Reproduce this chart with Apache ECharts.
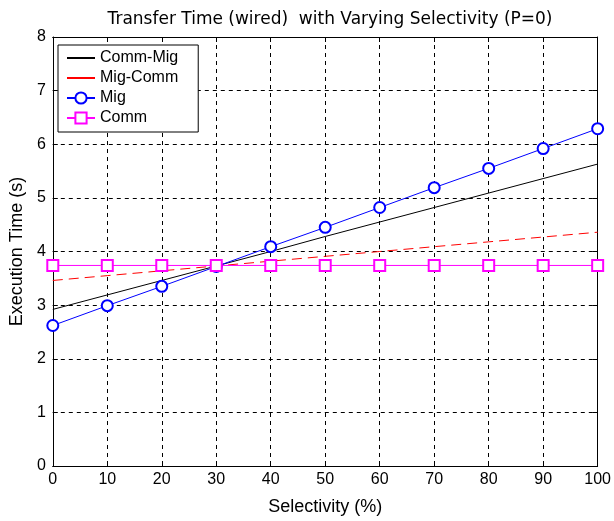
<!DOCTYPE html>
<html>
<head>
<meta charset="utf-8">
<script src="https://cdn.jsdelivr.net/npm/echarts@6/dist/echarts.min.js"></script>
<style>html,body{margin:0;padding:0;background:#fff}#c{width:614px;height:521px}</style>
</head>
<body>
<div id="c"></div>
<script>
const selectivity = [0, 10, 20, 30, 40, 50, 60, 70, 80, 90, 100];
const commMig = [2.92, 3.19, 3.46, 3.73, 4.00, 4.28, 4.55, 4.82, 5.09, 5.36, 5.63];
const migComm = [3.46, 3.55, 3.64, 3.73, 3.82, 3.91, 4.00, 4.09, 4.18, 4.27, 4.36];
const mig = [2.62, 2.99, 3.35, 3.72, 4.09, 4.45, 4.82, 5.19, 5.55, 5.92, 6.29];
const comm = [3.74, 3.74, 3.74, 3.74, 3.74, 3.74, 3.74, 3.74, 3.74, 3.74, 3.74];

const FONT = 'Liberation Sans, Arial, sans-serif';
const TFONT = 'DejaVu Sans, sans-serif';
const pairs = arr => selectivity.map((x, i) => [x, arr[i]]);
const dash = { color: '#000', type: [4, 4], width: 1 };

const chart = echarts.init(document.getElementById('c'), null, { renderer: 'canvas' });
chart.setOption({
  animation: false,
  backgroundColor: '#fff',
  title: {
    text: 'Transfer Time (wired)  with Varying Selectivity (P=0)',
    left: 325, top: 6, textAlign: 'center',
    textStyle: { fontFamily: TFONT, fontSize: 17, fontWeight: 'normal', color: '#000' }
  },
  grid: { left: 51, right: 13, top: 37, bottom: 50, containLabel: false },
  legend: {
    orient: 'vertical', left: 58, top: 45,
    backgroundColor: '#fff', borderColor: '#000', borderWidth: 1,
    padding: [5, 20, 6, 8], itemGap: 4, itemWidth: 28, itemHeight: 14,
    textStyle: { fontFamily: FONT, fontSize: 16, color: '#000' },
    data: [
      { name: 'Comm-Mig', itemStyle: { opacity: 0 } },
      { name: 'Mig-Comm', itemStyle: { opacity: 0 }, lineStyle: { type: 'solid' } },
      { name: 'Mig', itemStyle: { borderWidth: 1 } },
      { name: 'Comm', itemStyle: { borderWidth: 1 } }
    ]
  },
  xAxis: [{
    type: 'value', min: 0, max: 100, interval: 10,
    name: 'Selectivity (%)', nameLocation: 'middle', nameGap: 32,
    nameTextStyle: { fontFamily: FONT, fontSize: 18, color: '#000' },
    axisLine: { show: true, lineStyle: { color: '#000', width: 1 } },
    axisTick: { show: true, inside: true, length: 5, lineStyle: { color: '#000' } },
    axisLabel: { fontFamily: FONT, fontSize: 16, color: '#000', margin: 6 },
    splitLine: { show: true, lineStyle: dash }
  }, {
    type: 'value', min: 0, max: 100, interval: 10, position: 'top',
    axisLine: { show: true, onZero: false, lineStyle: { color: '#000', width: 1 } },
    axisTick: { show: true, inside: true, length: 5, lineStyle: { color: '#000' } },
    axisLabel: { show: false }, splitLine: { show: false }
  }],
  yAxis: [{
    type: 'value', min: 0, max: 8, interval: 1,
    name: 'Execution Time (s)', nameLocation: 'middle', nameGap: 16,
    nameTextStyle: { fontFamily: FONT, fontSize: 18, color: '#000' },
    axisLine: { show: true, lineStyle: { color: '#000', width: 1 } },
    axisTick: { show: true, inside: true, length: 5, lineStyle: { color: '#000' } },
    axisLabel: { fontFamily: FONT, fontSize: 16, color: '#000', margin: 7 },
    splitLine: { show: true, lineStyle: dash }
  }, {
    type: 'value', min: 0, max: 8, interval: 1, position: 'right',
    axisLine: { show: true, onZero: false, lineStyle: { color: '#000', width: 1 } },
    axisTick: { show: true, inside: true, length: 5, lineStyle: { color: '#000' } },
    axisLabel: { show: false }, splitLine: { show: false }
  }],
  series: [{
    name: 'Comm-Mig', type: 'line', data: pairs(commMig), symbol: 'none',
    lineStyle: { color: '#000', width: 1 }, itemStyle: { color: '#000' }
  }, {
    name: 'Mig-Comm', type: 'line', data: pairs(migComm), symbol: 'none',
    lineStyle: { color: '#ff0000', width: 1, type: [10, 6] }, itemStyle: { color: '#ff0000' }
  }, {
    name: 'Mig', type: 'line', data: pairs(mig), symbol: 'emptyCircle', symbolSize: 11,
    lineStyle: { color: '#0000ff', width: 1 }, itemStyle: { color: '#0000ff', borderWidth: 1 }
  }, {
    name: 'Comm', type: 'line', data: pairs(comm), symbol: 'emptyRect', symbolSize: 11,
    lineStyle: { color: '#ff00ff', width: 1 }, itemStyle: { color: '#ff00ff', borderWidth: 1 }
  }]
});
</script>
</body>
</html>
